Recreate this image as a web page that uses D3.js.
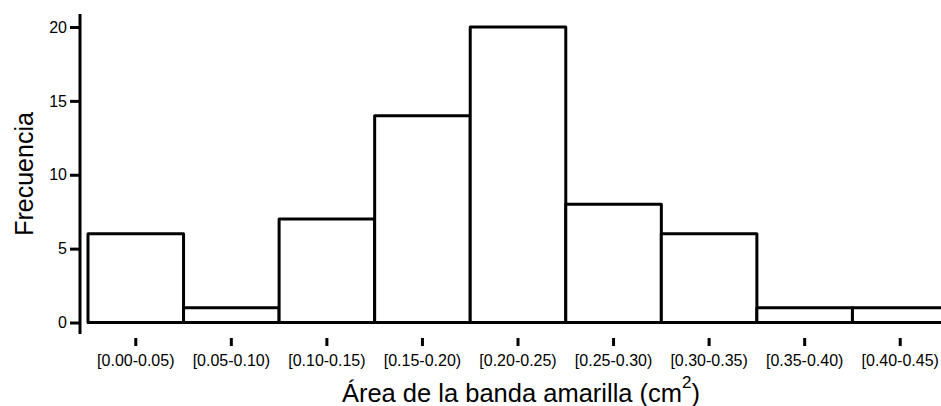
<!DOCTYPE html>
<html>
<head>
<meta charset="utf-8">
<script src="https://cdn.jsdelivr.net/npm/d3@7"></script>
<style>
  html, body { margin: 0; padding: 0; background: #fff; }
  svg { display: block; font-family: "Liberation Sans", Arial, sans-serif; }
</style>
</head>
<body>
<svg id="chart" width="941" height="406"></svg>
<script>
// Class intervals of the yellow band area and their counts
const categories = ["[0.00-0.05)", "[0.05-0.10)", "[0.10-0.15)", "[0.15-0.20)", "[0.20-0.25)",
                    "[0.25-0.30)", "[0.30-0.35)", "[0.35-0.40)", "[0.40-0.45)"];
const frequencies = [6, 1, 7, 14, 20, 8, 6, 1, 1];
const yTicks = [0, 5, 10, 15, 20];

const FONT = "\"Liberation Sans\", Arial, sans-serif";
const svg = d3.select("#chart");

const x = d3.scaleBand()
  .domain(categories)
  .range([88, 948])
  .padding(0);

const y = d3.scaleLinear()
  .domain([0, 20])
  .range([322.5, 27]);

// Histogram bars: white fill, heavy black outline
svg.append("g")
  .selectAll("rect")
  .data(categories)
  .join("rect")
  .attr("x", d => x(d))
  .attr("y", (d, i) => y(frequencies[i]))
  .attr("width", x.bandwidth())
  .attr("height", (d, i) => y(0) - y(frequencies[i]))
  .attr("fill", "#fff")
  .attr("stroke", "#000")
  .attr("stroke-width", 3)
  .attr("stroke-linejoin", "round");

// Y axis with a spine that runs a little past both end ticks
const yAxis = svg.append("g")
  .attr("transform", "translate(80,0)")
  .call(d3.axisLeft(y).tickValues(yTicks).tickSize(10).tickPadding(3).tickSizeOuter(0));
yAxis.select(".domain").remove();
yAxis.append("line")
  .attr("x1", 0).attr("x2", 0)
  .attr("y1", 14).attr("y2", 334)
  .attr("stroke", "#000").attr("stroke-width", 3);
yAxis.selectAll(".tick line").attr("stroke", "#000").attr("stroke-width", 3);
yAxis.selectAll(".tick text")
  .attr("fill", "#000")
  .style("font-size", "16px")
  .style("font-family", FONT);

// X axis: detached short ticks below the bars, no baseline
const xAxis = svg.append("g")
  .attr("transform", "translate(0,338)")
  .call(d3.axisBottom(x).tickSize(8).tickPadding(8.5).tickSizeOuter(0));
xAxis.select(".domain").remove();
xAxis.selectAll(".tick line").attr("stroke", "#000").attr("stroke-width", 3);
xAxis.selectAll(".tick text")
  .attr("fill", "#000")
  .style("font-size", "16px")
  .style("font-family", FONT);

// Axis titles
const xTitle = svg.append("text")
  .attr("x", 521)
  .attr("y", 402)
  .attr("text-anchor", "middle")
  .style("font-size", "25.5px")
  .style("font-family", FONT)
  .attr("fill", "#000");
xTitle.append("tspan").text("Área de la banda amarilla (cm");
xTitle.append("tspan").attr("dy", -14).style("font-size", "17px").text("2");
xTitle.append("tspan").attr("dy", 14).text(")");

svg.append("text")
  .attr("transform", "translate(33,174) rotate(-90)")
  .attr("text-anchor", "middle")
  .style("font-size", "25px")
  .style("font-family", FONT)
  .attr("fill", "#000")
  .text("Frecuencia");
</script>
</body>
</html>
